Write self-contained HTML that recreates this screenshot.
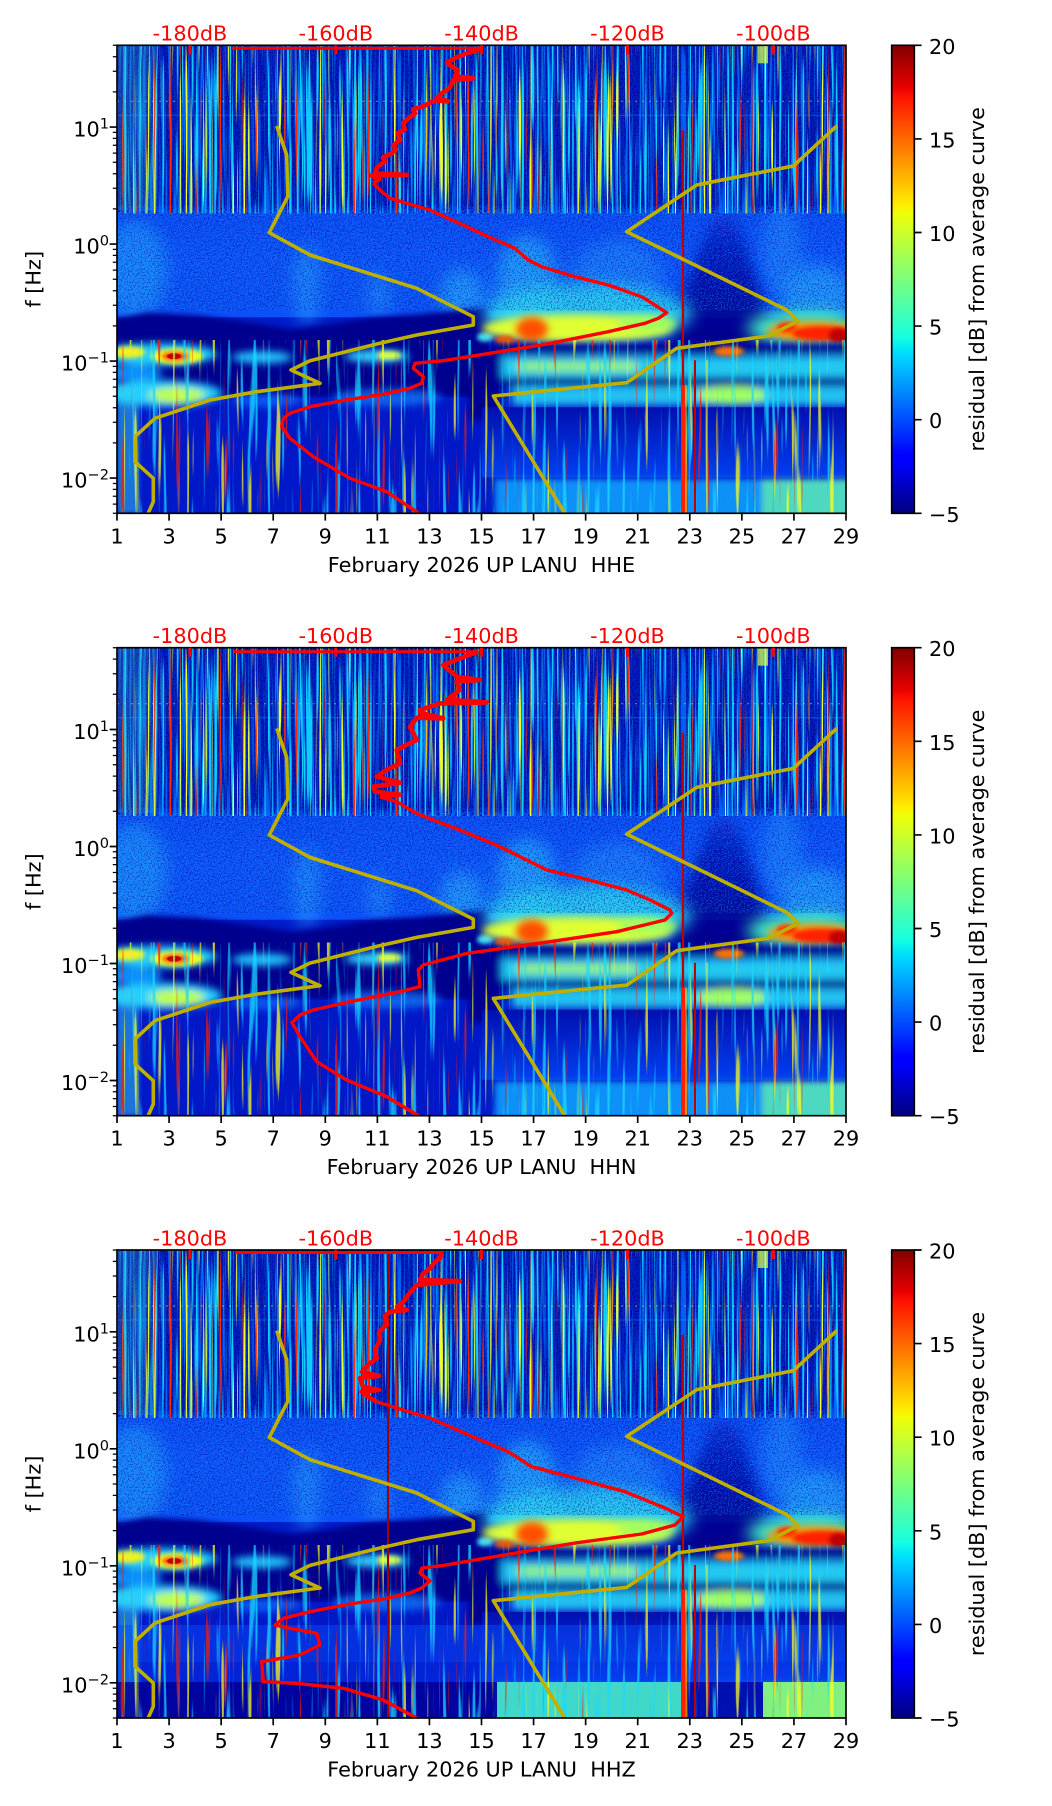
<!DOCTYPE html>
<html><head><meta charset="utf-8"><title>spectrogram</title>
<style>
html,body{margin:0;padding:0;background:#fff;width:1052px;height:1806px;overflow:hidden}
svg{display:block}
text{font-family:"DejaVu Sans","Liberation Sans",sans-serif;font-size:20.8px;fill:#000}
text.r{fill:#ff0000}
</style></head><body>
<svg xmlns="http://www.w3.org/2000/svg" xmlns:xlink="http://www.w3.org/1999/xlink" width="1052" height="1806" viewBox="0 0 1052 1806">
<defs>
 <linearGradient id="jet" x1="0" y1="1" x2="0" y2="0">
  <stop offset="0" stop-color="#000080"/>
  <stop offset="0.11" stop-color="#0000ff"/>
  <stop offset="0.125" stop-color="#0000ff"/>
  <stop offset="0.34" stop-color="#00dbff"/>
  <stop offset="0.35" stop-color="#00e6f7"/>
  <stop offset="0.375" stop-color="#15ffe2"/>
  <stop offset="0.5" stop-color="#7bff7b"/>
  <stop offset="0.64" stop-color="#eeff08"/>
  <stop offset="0.66" stop-color="#ffec00"/>
  <stop offset="0.89" stop-color="#ff1300"/>
  <stop offset="0.91" stop-color="#e80000"/>
  <stop offset="1" stop-color="#800000"/>
 </linearGradient>
 <linearGradient id="gMid" x1="0" y1="0" x2="0" y2="1">
  <stop offset="0" stop-color="#0828d0"/>
  <stop offset="0.08" stop-color="#0c4cf8"/>
  <stop offset="0.5" stop-color="#1054fc"/>
  <stop offset="1" stop-color="#0c50f8"/>
 </linearGradient>
 <linearGradient id="gLR" x1="0" y1="0" x2="0" y2="1">
  <stop offset="0" stop-color="#000fb0"/>
  <stop offset="1" stop-color="#0040f0"/>
 </linearGradient>
 <linearGradient id="gWedge" x1="0" y1="0" x2="0" y2="1">
  <stop offset="0" stop-color="#0a30d8"/>
  <stop offset="0.45" stop-color="#0010b0"/>
  <stop offset="1" stop-color="#000088"/>
 </linearGradient>
 <filter id="b2" x="-30%" y="-30%" width="160%" height="160%"><feGaussianBlur stdDeviation="2"/></filter>
 <filter id="b3" x="-30%" y="-30%" width="160%" height="160%"><feGaussianBlur stdDeviation="3"/></filter>
 <filter id="b4" x="-40%" y="-40%" width="180%" height="180%"><feGaussianBlur stdDeviation="4"/></filter>
 <filter id="b6" x="-40%" y="-40%" width="180%" height="180%"><feGaussianBlur stdDeviation="6"/></filter>
 <filter id="b8" x="-40%" y="-40%" width="180%" height="180%"><feGaussianBlur stdDeviation="8"/></filter>
 <filter id="stC" x="0" y="0" width="1" height="1" color-interpolation-filters="sRGB">
  <feTurbulence type="fractalNoise" baseFrequency="0.4 0.006" numOctaves="2" seed="4"/>
  <feColorMatrix type="matrix" values="0 0 0 0 0.05  0 0 0 0 0.8  0 0 0 0 1  9 0 0 0 -4.9"/>
 </filter>
 <filter id="stB" x="0" y="0" width="1" height="1" color-interpolation-filters="sRGB">
  <feTurbulence type="fractalNoise" baseFrequency="0.45 0.008" numOctaves="2" seed="21"/>
  <feColorMatrix type="matrix" values="0 0 0 0 0.0  0 0 0 0 0.45  0 0 0 0 1  8 0 0 0 -4.2"/>
 </filter>
 <filter id="stY" x="0" y="0" width="1" height="1" color-interpolation-filters="sRGB">
  <feTurbulence type="fractalNoise" baseFrequency="0.38 0.005" numOctaves="2" seed="9"/>
  <feColorMatrix type="matrix" values="0 0 0 0 0.95  0 0 0 0 1  0 0 0 0 0.15  0 10 0 0 -6.3"/>
 </filter>
 <filter id="stR" x="0" y="0" width="1" height="1" color-interpolation-filters="sRGB">
  <feTurbulence type="fractalNoise" baseFrequency="0.38 0.005" numOctaves="2" seed="17"/>
  <feColorMatrix type="matrix" values="0 0 0 0 1  0 0 0 0 0.15  0 0 0 0 0  0 0 12 0 -8.2"/>
 </filter>
 <filter id="spk" x="0" y="0" width="1" height="1" color-interpolation-filters="sRGB">
  <feTurbulence type="fractalNoise" baseFrequency="0.7" numOctaves="1" seed="2"/>
  <feColorMatrix type="matrix" values="0 0 0 0 0.05  0 0 0 0 0.6  0 0 0 0 1  6 0 0 0 -3.0"/>
 </filter>
 <filter id="spkD" x="0" y="0" width="1" height="1" color-interpolation-filters="sRGB">
  <feTurbulence type="fractalNoise" baseFrequency="0.7" numOctaves="1" seed="12"/>
  <feColorMatrix type="matrix" values="0 0 0 0 0  0 0 0 0 0  0 0 0 0 0.55  6 0 0 0 -3.0"/>
 </filter>
 <filter id="lbC" x="0" y="0" width="1" height="1" color-interpolation-filters="sRGB">
  <feTurbulence type="fractalNoise" baseFrequency="0.2 0.007" numOctaves="2" seed="31"/>
  <feColorMatrix type="matrix" values="0 0 0 0 0.1  0 0 0 0 0.85  0 0 0 0 1  9 0 0 0 -5.3"/>
 </filter>
 <filter id="lbY" x="0" y="0" width="1" height="1" color-interpolation-filters="sRGB">
  <feTurbulence type="fractalNoise" baseFrequency="0.22 0.006" numOctaves="2" seed="37"/>
  <feColorMatrix type="matrix" values="0 0 0 0 1  0 0 0 0 1  0 0 0 0 0.1  0 11 0 0 -7.3"/>
 </filter>
 <filter id="lbR" x="0" y="0" width="1" height="1" color-interpolation-filters="sRGB">
  <feTurbulence type="fractalNoise" baseFrequency="0.22 0.006" numOctaves="2" seed="43"/>
  <feColorMatrix type="matrix" values="0 0 0 0 1  0 0 0 0 0.1  0 0 0 0 0  0 0 12 0 -8.3"/>
 </filter>
 <clipPath id="cp"><rect width="729" height="468"/></clipPath>

 <g id="specBase">
  <rect width="729" height="468" fill="#001cc8"/>
  <rect width="729" height="172" fill="#001fc0"/>
  <rect y="160" width="729" height="112" fill="url(#gMid)"/>
  <g filter="url(#b8)" opacity="0.6">
   <ellipse cx="18" cy="225" rx="32" ry="50" fill="#28a8ff"/>
   <ellipse cx="190" cy="240" rx="14" ry="40" fill="#2aa0ff"/>
   <ellipse cx="262" cy="250" rx="12" ry="22" fill="#2a98ff"/>
   <ellipse cx="345" cy="250" rx="22" ry="26" fill="#30c0ff"/>
   <ellipse cx="410" cy="235" rx="30" ry="45" fill="#30c8ff"/>
   <ellipse cx="500" cy="230" rx="45" ry="35" fill="#2890ff"/>
   <ellipse cx="665" cy="205" rx="20" ry="45" fill="#2890ff"/>
   <ellipse cx="700" cy="250" rx="35" ry="30" fill="#30c0ff"/>
  </g>
  <!-- dark wedge days 22-25 -->
  <path d="M595,172 C605,168 615,170 622,180 L648,262 Q652,300 640,302 L558,302 Q546,285 565,250 Z" fill="url(#gWedge)" filter="url(#b6)"/>
  <!-- left navy band -->
  <path d="M-5,274 L30,267 L80,270 L130,277 L175,284 L215,279 L255,272 L300,269 L340,265 L372,262 L372,352 L-5,352 Z" fill="#00008e" filter="url(#b3)"/>
  <rect x="-5" y="352" width="375" height="125" fill="#0018c8"/>
  <!-- left blob rows -->
  <g filter="url(#b4)">
   <ellipse cx="40" cy="309" rx="60" ry="11" fill="#20d0ff"/>
   <ellipse cx="145" cy="312" rx="30" ry="6" fill="#20c8ff"/>
   <ellipse cx="260" cy="311" rx="32" ry="6" fill="#30d8ff"/>
   <ellipse cx="15" cy="328" rx="30" ry="8" fill="#1090ff"/>
   <ellipse cx="45" cy="348" rx="60" ry="13" fill="#20d0ff"/>
   <ellipse cx="60" cy="350" rx="28" ry="8" fill="#c0ff40"/>
   <ellipse cx="150" cy="355" rx="35" ry="7" fill="#1070ff" opacity="0.7"/>
   <ellipse cx="270" cy="352" rx="55" ry="9" fill="#1080ff" opacity="0.7"/>
  </g>
  <g filter="url(#b2)">
   <ellipse cx="12" cy="307" rx="16" ry="6" fill="#f0f020"/>
   <ellipse cx="60" cy="311" rx="26" ry="8" fill="#f0ff20"/>
   <ellipse cx="58" cy="311" rx="14" ry="5" fill="#ff3000"/>
   <ellipse cx="272" cy="310" rx="12" ry="4" fill="#e0ff40"/>
   <ellipse cx="368" cy="292" rx="8" ry="5" fill="#40e0ff"/>
   <rect x="0" y="340" width="22" height="128" fill="#30d0f0" opacity="0.5"/>
  </g>
  <ellipse cx="57" cy="311" rx="7" ry="3" fill="#c00000"/>
  <!-- right yellow band -->
  <ellipse cx="470" cy="268" rx="105" ry="30" fill="#30e0f0" filter="url(#b8)" opacity="0.85"/>
  <ellipse cx="460" cy="283" rx="95" ry="14" fill="#e0ff30" filter="url(#b4)"/>
  <ellipse cx="530" cy="278" rx="30" ry="8" fill="#a0ff60" filter="url(#b4)"/>
  <ellipse cx="415" cy="284" rx="16" ry="12" fill="#ff5000" filter="url(#b4)"/>
  <ellipse cx="388" cy="295" rx="10" ry="5" fill="#ff6000" filter="url(#b2)"/>
  <!-- right red band -->
  <ellipse cx="690" cy="283" rx="60" ry="18" fill="#40f0c0" filter="url(#b8)"/>
  <ellipse cx="695" cy="286" rx="45" ry="10" fill="#ff9000" filter="url(#b4)"/>
  <ellipse cx="705" cy="288" rx="30" ry="7" fill="#ff2000" filter="url(#b2)"/>
  <ellipse cx="722" cy="290" rx="10" ry="7" fill="#c00000" filter="url(#b2)"/>
  <ellipse cx="670" cy="282" rx="10" ry="5" fill="#ff3000" filter="url(#b2)"/>
  <!-- right lower bands -->
  <g filter="url(#b4)">
   <rect x="365" y="299" width="370" height="10" fill="#000090"/>
   <rect x="385" y="311" width="350" height="21" fill="#20c8f0"/>
   <rect x="400" y="316" width="120" height="10" fill="#90f080"/>
   <rect x="365" y="332" width="370" height="9" fill="#000090"/>
   <rect x="395" y="341" width="340" height="19" fill="#20c0f0"/>
   <ellipse cx="615" cy="350" rx="35" ry="9" fill="#a0ff60"/>
   <rect x="352" y="300" width="32" height="75" fill="#000090"/>
  </g>
  <ellipse cx="612" cy="306" rx="15" ry="5" fill="#ff7000" filter="url(#b2)"/>
  <rect x="365" y="362" width="370" height="70" fill="url(#gLR)"/>
  <g filter="url(#b3)">
   <rect x="378" y="434" width="360" height="40" fill="#1090f8"/>
   <rect x="645" y="434" width="90" height="40" fill="#50d8c0"/>
  </g>
 </g>

 <g id="specStreaks">
  <rect width="729" height="168" filter="url(#spkD)"/>
  <rect y="165" width="729" height="100" filter="url(#spkD)" opacity="0.5"/>
  <rect y="165" width="729" height="100" filter="url(#spk)" opacity="0.45"/>
  <rect width="729" height="168" filter="url(#stB)" opacity="0.8"/>
  <rect width="729" height="168" filter="url(#stC)"/>
  <rect width="729" height="168" filter="url(#stY)"/>
  <rect width="729" height="168" filter="url(#stR)"/>
  <rect x="0" y="0" width="40" height="165" fill="#60d0a0" opacity="0.2"/>
  <rect x="641" y="0" width="10" height="18" fill="#e0ff40" opacity="0.7"/>
  <line x1="0" y1="56" x2="729" y2="56" stroke="#e0e040" stroke-width="1.2" stroke-dasharray="2 5" opacity="0.5"/>
  <line x1="0" y1="70" x2="729" y2="70" stroke="#40c0ff" stroke-width="1" opacity="0.3"/>
  <g opacity="0.75">
   <rect y="295" width="729" height="173" filter="url(#lbC)"/>
   <rect y="295" width="729" height="173" filter="url(#lbY)"/>
   <rect y="295" width="729" height="173" filter="url(#lbR)"/>
  </g>
  <line x1="566" y1="85" x2="566" y2="468" stroke="#c00000" stroke-width="2.2"/>
  <line x1="566" y1="340" x2="566" y2="468" stroke="#ff2000" stroke-width="4"/>
  <line x1="569" y1="340" x2="569" y2="468" stroke="#f0e000" stroke-width="1"/>
  <line x1="578" y1="315" x2="578" y2="468" stroke="#c00000" stroke-width="2"/>
  <line x1="590" y1="315" x2="590" y2="468" stroke="#f0f020" stroke-width="1"/>
 </g>

 <g id="yel" fill="none" stroke="#bfb000" stroke-width="3.6" stroke-linejoin="round">
  <polyline points="159.7,80.7 169.7,109.7 170.7,151.4 152.3,187.4 193,209.7 299.7,243 356.3,271.4 356.3,279.7 299.7,289.7 259.7,298.7 193,315.4 174,324.7 203,338 139.7,346.4 93,354.7 38,373 18,391.4 18,416.4 36.3,433 36.3,456.4 30.3,470"/>
  <polyline points="719.7,80.7 676.3,120.7 588,138 579.7,139.7 509.7,186.4 669.7,264.7 681.3,275.7 651.3,290.7 559.7,303 509.7,337.4 376.3,350.7 449,470"/>
 </g>

 <g id="axes">
  <rect x="0" y="0" width="729" height="468" fill="none" stroke="#000" stroke-width="1.67"/>
  <g fill="#ff0000">
   <rect x="71.5" y="0" width="3" height="9"/>
   <rect x="217.3" y="0" width="3" height="9"/>
   <rect x="363.1" y="0" width="3" height="9"/>
   <rect x="509" y="0" width="3" height="9"/>
   <rect x="654.8" y="0" width="3" height="9"/>
  </g>
  <path fill="none" stroke="#000" stroke-width="1.67" d="M0,468v7.3M52.07,468v7.3M104.14,468v7.3M156.21,468v7.3M208.29,468v7.3M260.36,468v7.3M312.43,468v7.3M364.5,468v7.3M416.57,468v7.3M468.64,468v7.3M520.71,468v7.3M572.79,468v7.3M624.86,468v7.3M676.93,468v7.3M729,468v7.3M0,81.8h-7.3M0,198.8h-7.3M0,315.8h-7.3M0,432.8h-7.3"/>
  <path fill="none" stroke="#000" stroke-width="1.25" d="M0,0h-4.2M0,11.4h-4.2M0,26h-4.2M0,46.6h-4.2M0,87.1h-4.2M0,93.1h-4.2M0,99.9h-4.2M0,107.8h-4.2M0,117h-4.2M0,128.4h-4.2M0,143h-4.2M0,163.6h-4.2M0,204.1h-4.2M0,210.1h-4.2M0,216.9h-4.2M0,224.8h-4.2M0,234h-4.2M0,245.4h-4.2M0,260h-4.2M0,280.6h-4.2M0,321.1h-4.2M0,327.1h-4.2M0,333.9h-4.2M0,341.8h-4.2M0,351h-4.2M0,362.4h-4.2M0,377h-4.2M0,397.6h-4.2M0,438.2h-4.2M0,444.1h-4.2M0,450.9h-4.2M0,458.8h-4.2M0,468h-4.2"/>
  <g text-anchor="middle">
   <text x="0" y="498">1</text><text x="52.07" y="498">3</text><text x="104.14" y="498">5</text><text x="156.21" y="498">7</text><text x="208.29" y="498">9</text><text x="260.36" y="498">11</text><text x="312.43" y="498">13</text><text x="364.5" y="498">15</text><text x="416.57" y="498">17</text><text x="468.64" y="498">19</text><text x="520.71" y="498">21</text><text x="572.79" y="498">23</text><text x="624.86" y="498">25</text><text x="676.93" y="498">27</text><text x="729" y="498">29</text>
  </g>
  <g text-anchor="end">
   <text x="-8" y="91.4">10<tspan dy="-8" font-size="14.6">1</tspan></text>
   <text x="-8" y="208.4">10<tspan dy="-8" font-size="14.6">0</tspan></text>
   <text x="-8" y="325.4">10<tspan dy="-8" font-size="14.6">−1</tspan></text>
   <text x="-8" y="442.4">10<tspan dy="-8" font-size="14.6">−2</tspan></text>
  </g>
  <g text-anchor="middle">
   <text class="r" x="73" y="-4.6">-180dB</text>
   <text class="r" x="218.8" y="-4.6">-160dB</text>
   <text class="r" x="364.6" y="-4.6">-140dB</text>
   <text class="r" x="510.5" y="-4.6">-120dB</text>
   <text class="r" x="656.3" y="-4.6">-100dB</text>
  </g>
  <text transform="translate(-76.4,234) rotate(-90)" text-anchor="middle">f [Hz]</text>
  <rect x="774.7" y="0" width="22.6" height="468" fill="url(#jet)" stroke="#000" stroke-width="1.67"/>
  <path fill="none" stroke="#000" stroke-width="1.67" d="M797.3,0h7.3M797.3,93.6h7.3M797.3,187.2h7.3M797.3,280.8h7.3M797.3,374.4h7.3M797.3,468h7.3"/>
  <text x="812" y="8.5">20</text>
  <text x="812" y="102.1">15</text>
  <text x="812" y="195.7">10</text>
  <text x="812" y="289.3">5</text>
  <text x="812" y="382.9">0</text>
  <text x="812" y="476.5">−5</text>
  <text transform="translate(867,234) rotate(-90)" text-anchor="middle">residual [dB] from average curve</text>
 </g>
</defs>

<rect width="1052" height="1806" fill="#fff"/>

<!-- Panel 1 HHE -->
<g transform="translate(117,45.3)">
 <g clip-path="url(#cp)">
  <use href="#specBase" xlink:href="#specBase"/>
  <use href="#specStreaks" xlink:href="#specStreaks"/>
  <use href="#yel" xlink:href="#yel"/>
  <g fill="none" stroke="#ff0000" stroke-linejoin="round">
   <polyline stroke-width="3.4" points="304.7,470 269.7,446.4 233,433 196.3,411.4 173,393 164.7,381.4 166.3,373 173,368 193,361.4 233,354 266.3,349 293,343 304.7,338 306.3,331.4 296.3,323 298,318 326.3,315.4 373,308 424.7,299.7 491.3,286.4 528,278 541.3,273 549.7,267.4 538,259.7 524.7,251.4 491.3,239.7 458,231.4 424.7,221.4 411.3,214.7 398,203 371.3,191.4 349.7,181.4 313,164.7 289.7,158 273,153 264.7,146.4 256.3,138"/>
   <polyline stroke-width="4.6" points="256.3,138 262,134 254,130 290,129.7 258,128 260,122 268,116 266,112 275,108 279,104 276,100 283,95 281,88 288,84 286,78 293,72 298,68 296,64 306,61 318,55 331,56 320,52 325,48 333,42 336,35 356,33 338,31 341,25 333,20 330,17 340,12 350,8 357,6 364.7,3"/>
   <path stroke-width="3" d="M115,3H365"/>
  </g>
 </g>
 <use href="#axes" xlink:href="#axes"/>
 <text x="364.5" y="526.5" text-anchor="middle" xml:space="preserve" style="white-space:pre">February 2026 UP LANU  HHE</text>
</g>

<!-- Panel 2 HHN -->
<g transform="translate(117,647.7)">
 <g clip-path="url(#cp)">
  <use href="#specBase" xlink:href="#specBase"/>
  <use href="#specStreaks" xlink:href="#specStreaks"/>
  <use href="#yel" xlink:href="#yel"/>
  <g fill="none" stroke="#ff0000" stroke-linejoin="round">
   <polyline stroke-width="3.4" points="304.7,470 269.7,449 229.7,432.3 199.7,414 183,389 175,375 183,367.3 196.3,362.3 233,354 283,344 303,339 301.3,322.3 306.3,317.3 349.7,305.7 433,294 499.7,284 548,272.3 554.7,265.7 553,262.3 533,252.3 509.7,242.3 466.3,230.7 429.7,222.3 409.7,212.3 383,199 343,182.3 316.3,172.3 299.7,165.7 279.7,154 263,149"/>
   <polyline stroke-width="4.6" points="263,149 283,147 258,144 256.3,139 283,135 259.7,129 270,122 283,115.7 279.7,102.3 290,97 299.7,92.3 293,79 300,70 326.3,70.7 303,65 303,62.3 323,55.7 369.7,54.7 330,52 343,42 339.7,34 363,32.3 339.7,29 326.3,17.3 345,10 361,4"/>
   <path stroke-width="3" d="M117,4H361"/>
  </g>
 </g>
 <use href="#axes" xlink:href="#axes"/>
 <text x="364.5" y="526.5" text-anchor="middle" xml:space="preserve" style="white-space:pre">February 2026 UP LANU  HHN</text>
</g>

<!-- Panel 3 HHZ -->
<g transform="translate(117,1250)">
 <g clip-path="url(#cp)">
  <use href="#specBase" xlink:href="#specBase"/>
  <rect y="375" width="729" height="37" fill="#0a48f8" opacity="0.5"/>
  <rect y="412" width="729" height="20" fill="#0838f0" opacity="0.35"/>
  <rect y="432" width="380" height="36" fill="#000098" opacity="0.85"/>
  <rect x="380" y="432" width="186" height="36" fill="#40d8c8"/>
  <rect x="566" y="432" width="80" height="36" fill="#0010b0"/>
  <rect x="646" y="432" width="83" height="36" fill="#80f080"/>
  <use href="#specStreaks" xlink:href="#specStreaks"/>
  <line x1="271" y1="0" x2="271" y2="468" stroke="#a00000" stroke-width="2"/>
  <use href="#yel" xlink:href="#yel"/>
  <g fill="none" stroke="#ff0000" stroke-linejoin="round">
   <polyline stroke-width="3.4" points="303,470 266.3,450 226.3,438.3 179.7,433.3 146.3,431.7 144.7,411.7 183,405 203,395 199.7,383.3 173,378.3 158,375 166.3,368.3 193,361.7 233,354 266.3,349 293,343 304.7,338 313,331 303,323 305,318 326.3,315.4 358,310 458,293 524.7,284 558,275 566.3,266.7 548,258 508,241.7 458,228 414.7,216.7 391.3,201.7 358,187.7 313,168 286.3,160 259.7,151.7"/>
   <polyline stroke-width="4.6" points="259.7,151.7 250,146 244.7,141.7 262,140 246,137 243,128 262,126 245,122 250,116 259.7,108 258,100 263,90 262,82 270,74 268,66 273,61.7 290,60 280,57 286.3,51.7 292,44 299.7,35 343,31 303,30 306,24 313,18.3 318,12 323,8.3 324.7,3.3"/>
   <path stroke-width="3" d="M118,2.5H326"/>
  </g>
 </g>
 <use href="#axes" xlink:href="#axes"/>
 <text x="364.5" y="526.5" text-anchor="middle" xml:space="preserve" style="white-space:pre">February 2026 UP LANU  HHZ</text>
</g>
</svg>
</body></html>
